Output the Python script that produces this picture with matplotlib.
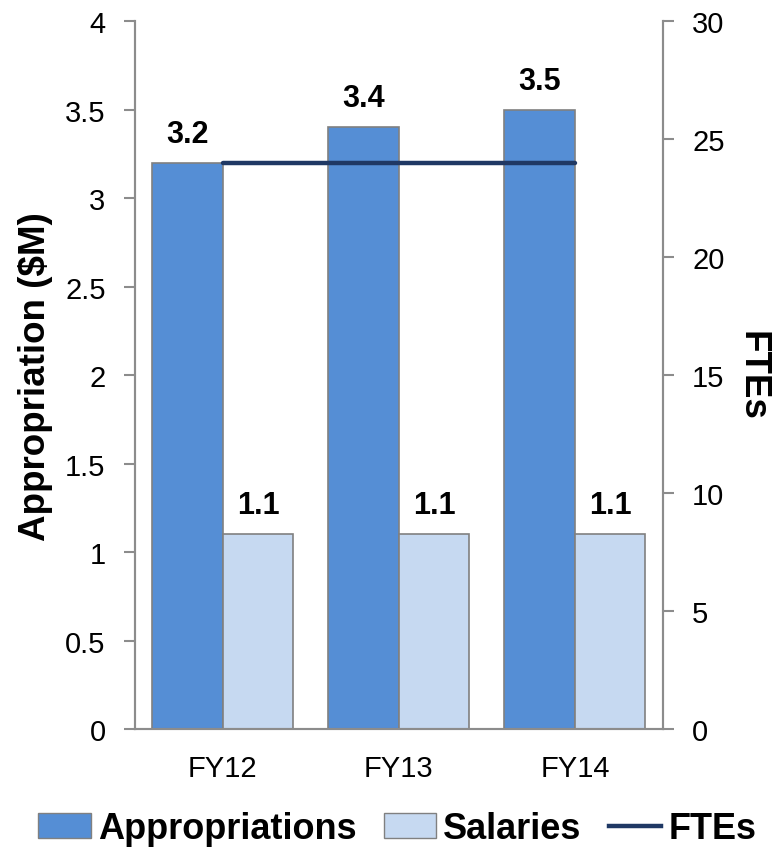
import numpy as np
import matplotlib.pyplot as plt
from matplotlib.patches import Patch
from matplotlib.lines import Line2D

plt.rcParams['font.family'] = ['Liberation Sans', 'DejaVu Sans']

# data
years = ['FY12', 'FY13', 'FY14']
appropriations = [3.2, 3.4, 3.5]
salaries = [1.1, 1.1, 1.1]
ftes = [24, 24, 24]

c_app = '#558ED5'
c_sal = '#C6D9F1'
c_fte = '#1F3864'
c_axis = '#8C8C8C'

fig = plt.figure(figsize=(7.79, 8.53), dpi=100)
ax = fig.add_axes([0.173, 0.144, 0.678, 0.830])
ax2 = ax.twinx()

x = np.arange(len(years))
w = 0.4
b1 = ax.bar(x - w / 2, appropriations, w, color=c_app, edgecolor='#808080', linewidth=1.2)
b2 = ax.bar(x + w / 2, salaries, w, color=c_sal, edgecolor='#808080', linewidth=1.2)

for rect, v in list(zip(b1, appropriations)) + list(zip(b2, salaries)):
    ax.text(rect.get_x() + rect.get_width() / 2, v + 0.08, f'{v:.1f}',
            ha='center', va='bottom', fontsize=22, fontweight='bold')

ax2.plot(x, ftes, color=c_fte, linewidth=3.2, solid_capstyle='round')

ax.set_xlim(-0.5, 2.5)
ax.set_ylim(0, 4)
ax2.set_ylim(0, 30)
ax.set_yticks(np.arange(0, 4.01, 0.5))
ax.set_yticklabels(['0', '0.5', '1', '1.5', '2', '2.5', '3', '3.5', '4'])
ax2.set_yticks(np.arange(0, 31, 5))
ax.set_xticks(x)
ax.set_xticklabels(years)

for a in (ax, ax2):
    a.spines['top'].set_visible(False)
    for s in ('left', 'right', 'bottom'):
        a.spines[s].set_color(c_axis)
        a.spines[s].set_linewidth(1.5)
ax.tick_params(axis='y', length=8, width=1.5, color=c_axis, labelsize=21, pad=13)
ax2.tick_params(axis='y', length=8, width=1.5, color=c_axis, labelsize=21, pad=13)
ax.tick_params(axis='x', length=0, labelsize=21, pad=18)

ax.set_ylabel('Appropriation ($M)', fontsize=26.5, fontweight='bold', labelpad=9)
ax2.set_ylabel('FTEs', fontsize=26.5, fontweight='bold', rotation=-90, labelpad=32)

handles = [Patch(facecolor=c_app, edgecolor='#808080'),
           Patch(facecolor=c_sal, edgecolor='#808080'),
           Line2D([0], [0], color=c_fte, linewidth=3.2)]
fig.legend(handles, ['Appropriations', 'Salaries', 'FTEs'], loc='center',
           bbox_to_anchor=(0.51, 0.027), ncol=3, frameon=False,
           prop={'size': 26, 'weight': 'bold'}, handlelength=1.45,
           handletextpad=0.2, columnspacing=0.75)

fig.savefig('out.png', dpi=100)
